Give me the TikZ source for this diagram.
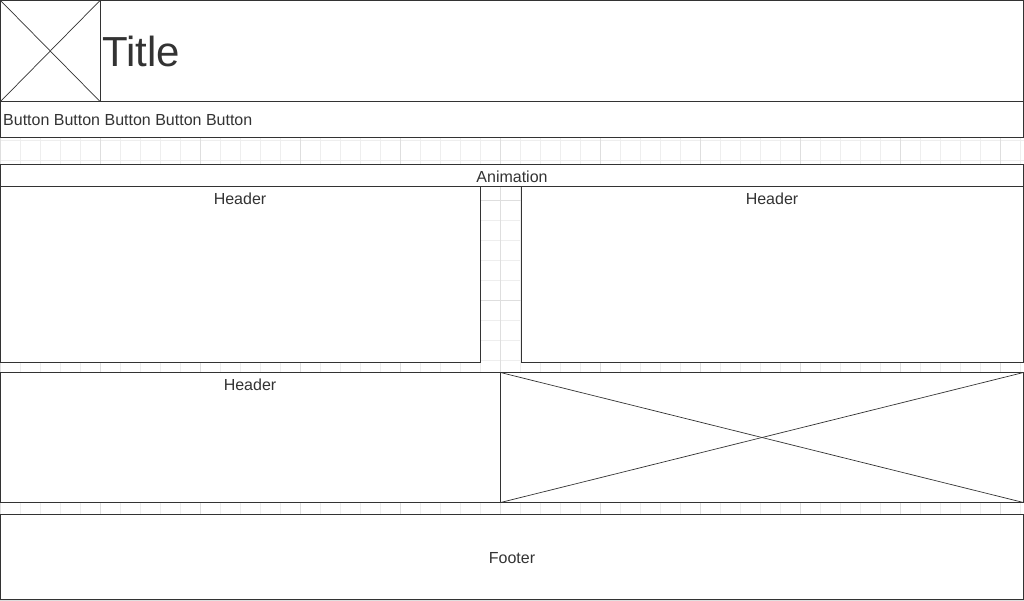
\documentclass[tikz,border=0pt]{standalone}
\usepackage{fontspec}
\setmainfont{Liberation Sans}
\usepackage{xcolor}
\definecolor{ink}{HTML}{333333}
\definecolor{gridminor}{HTML}{EEEEEE}
\definecolor{gridmajor}{HTML}{DEDEDE}
\tikzset{
  wire/.style={draw=ink, line width=0.9pt, fill=white},
  cross/.style={draw=ink, line width=0.7pt},
  caption/.style={text=ink, inner sep=0pt, font=\fontsize{16}{19}\selectfont}
}
\begin{document}
\begin{tikzpicture}[x=1pt, y=-1pt]
  \useasboundingbox (0,0) rectangle (1024,600);
  \fill[white] (0,0) rectangle (1024,600);
  % background grid
  \foreach \gx in {0,20,...,1020}
    \draw[gridminor, line width=0.8pt] (\gx,0) -- (\gx,600);
  \foreach \gy in {0,20,...,600}
    \draw[gridminor, line width=0.8pt] (0,\gy) -- (1024,\gy);
  \foreach \gx in {0,100,...,1000}
    \draw[gridmajor, line width=0.8pt] (\gx,0) -- (\gx,600);
  \foreach \gy in {0,100,...,600}
    \draw[gridmajor, line width=0.8pt] (0,\gy) -- (1024,\gy);
  % title bar
  \draw[wire] (0.5,0.5) rectangle (1023.5,101.5);
  \draw[wire] (0.5,0.5) rectangle (100,101.5);
  \draw[cross] (0.5,0.5) -- (100,101.5);
  \draw[cross] (100,0.5) -- (0.5,101.5);
  \node[caption, anchor=base west, font=\fontsize{42}{50}\selectfont] (title) at (102,66) {Title};
  % menu
  \draw[wire] (0.5,101.5) rectangle (1023.5,137.5);
  \node[caption, anchor=west] (menu) at (3,120.5) {Button Button Button Button Button};
  % animation
  \draw[wire] (0.5,164.5) rectangle (1023.5,186.5);
  \node[caption] (anim) at (512,177) {Animation};
  % two headers
  \draw[wire] (0.5,186.5) rectangle (480.5,362.5);
  \node[caption] (headA) at (240,199) {Header};
  \draw[wire] (521.5,186.5) rectangle (1023.5,362.5);
  \node[caption] (headB) at (772,199) {Header};
  % header and picture
  \draw[wire] (0.5,372.5) rectangle (500.5,502.5);
  \node[caption] (headC) at (250,385) {Header};
  \draw[wire] (500.5,372.5) rectangle (1023.5,502.5);
  \draw[cross] (500.5,372.5) -- (1023.5,502.5);
  \draw[cross] (1023.5,372.5) -- (500.5,502.5);
  % footer
  \draw[wire] (0.5,514.5) rectangle (1023.5,599.5);
  \node[caption] (foot) at (512,558) {Footer};
\end{tikzpicture}
\end{document}
